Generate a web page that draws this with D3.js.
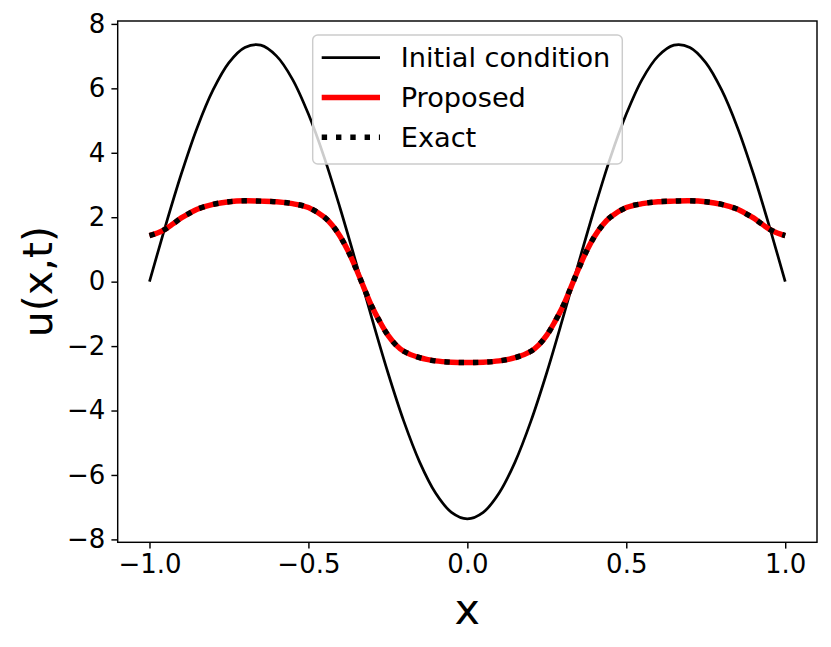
<!DOCTYPE html>
<html>
<head>
<meta charset="utf-8">
<script src="https://cdn.jsdelivr.net/npm/d3@7"></script>
<style>
  body { margin: 0; background: #fff; }
  svg { font-family: "DejaVu Sans", sans-serif; }
</style>
</head>
<body>
<svg id="chart" width="831" height="647"></svg>
<script>
// initial condition u(x,0)
var xInit = [-1.0, -0.95, -0.9, -0.85, -0.8, -0.75, -0.7, -0.65, -0.6, -0.55, -0.5, -0.45, -0.4, -0.35, -0.3, -0.25, -0.2, -0.15, -0.1, -0.05,
  0.0, 0.05, 0.1, 0.15, 0.2, 0.25, 0.3, 0.35, 0.4, 0.45, 0.5, 0.55, 0.6, 0.65, 0.7, 0.75, 0.8, 0.85, 0.9, 0.95, 1.0];
var uInit = [0.0, 1.72, 3.34, 4.78, 5.95, 6.80, 7.27, 7.34, 7.00, 6.28, 5.20, 3.85, 2.27, 0.58, -1.15, -2.82, -4.33, -5.60, -6.56, -7.16,
  -7.36, -7.16, -6.56, -5.60, -4.33, -2.82, -1.15, 0.58, 2.27, 3.85, 5.20, 6.28, 7.00, 7.34, 7.27, 6.80, 5.95, 4.78, 3.34, 1.72, 0.0];

// solution at final time
var xSol = [-1.0, -0.975, -0.95, -0.925, -0.9, -0.875, -0.85, -0.8, -0.75, -0.7, -0.65, -0.6, -0.55, -0.5, -0.45, -0.425, -0.4, -0.375, -0.35, -0.325, -0.3, -0.275, -0.25, -0.225, -0.2, -0.15, -0.1, -0.05,
  0.0, 0.05, 0.1, 0.15, 0.2, 0.225, 0.25, 0.275, 0.3, 0.325, 0.35, 0.375, 0.4, 0.425, 0.45, 0.5, 0.55, 0.6, 0.65, 0.7, 0.75, 0.8, 0.85, 0.875, 0.9, 0.925, 0.95, 0.975, 1.0];
var uProposed = [1.43, 1.51, 1.63, 1.80, 1.98, 2.12, 2.25, 2.40, 2.48, 2.51, 2.50, 2.48, 2.42, 2.30, 2.00, 1.75, 1.40, 0.95, 0.40, -0.20, -0.78, -1.25, -1.66, -1.96, -2.16, -2.36, -2.46, -2.50,
  -2.51, -2.50, -2.46, -2.36, -2.16, -1.96, -1.66, -1.25, -0.78, -0.20, 0.40, 0.95, 1.40, 1.75, 2.00, 2.30, 2.42, 2.48, 2.50, 2.51, 2.48, 2.40, 2.25, 2.12, 1.98, 1.80, 1.63, 1.51, 1.43];
var uExact = [1.43, 1.51, 1.63, 1.80, 1.98, 2.12, 2.25, 2.40, 2.48, 2.51, 2.50, 2.48, 2.42, 2.30, 2.00, 1.75, 1.40, 0.95, 0.40, -0.20, -0.78, -1.25, -1.66, -1.96, -2.16, -2.36, -2.46, -2.50,
  -2.51, -2.50, -2.46, -2.36, -2.16, -1.96, -1.66, -1.25, -0.78, -0.20, 0.40, 0.95, 1.40, 1.75, 2.00, 2.30, 2.42, 2.48, 2.50, 2.51, 2.48, 2.40, 2.25, 2.12, 1.98, 1.80, 1.63, 1.51, 1.43];

var xTicks = [-1.0, -0.5, 0.0, 0.5, 1.0];
var xTickLabels = ["\u22121.0", "\u22120.5", "0.0", "0.5", "1.0"];
var yTicks = [-8, -6, -4, -2, 0, 2, 4, 6, 8];
var yTickLabels = ["\u22128", "\u22126", "\u22124", "\u22122", "0", "2", "4", "6", "8"];
var legendLabels = ["Initial condition", "Proposed", "Exact"];

var margin = {top: 21, right: 14, bottom: 104.7, left: 117.7},
  width = 831 - margin.left - margin.right,
  height = 647 - margin.top - margin.bottom;

var svg = d3.select("#chart");
var g = svg.append("g")
  .attr("transform", "translate(" + margin.left + "," + margin.top + ")");

var x = d3.scaleLinear().domain([-1.1, 1.1]).range([0, width]);
var y = d3.scaleLinear().domain([-8.09, 8.09]).range([height, 0]);

var line = d3.line()
  .x(function(d) { return x(d[0]); })
  .y(function(d) { return y(d[1]); })
  .curve(d3.curveCatmullRom);

g.append("path")
  .datum(d3.zip(xInit, uInit))
  .attr("fill", "none")
  .attr("stroke", "#000")
  .attr("stroke-width", 2.7)
  .attr("d", line);

g.append("path")
  .datum(d3.zip(xSol, uProposed))
  .attr("fill", "none")
  .attr("stroke", "#ff0000")
  .attr("stroke-width", 5.4)
  .attr("d", line);

g.append("path")
  .datum(d3.zip(xSol, uExact))
  .attr("fill", "none")
  .attr("stroke", "#000")
  .attr("stroke-width", 5.4)
  .attr("stroke-dasharray", "5.4,8.9")
  .attr("d", line);

// axes
var xAxis = g.append("g")
  .attr("transform", "translate(0," + height + ")")
  .call(d3.axisBottom(x).tickValues(xTicks)
    .tickFormat(function(d, i) { return xTickLabels[i]; })
    .tickSize(6.3).tickPadding(6));
var yAxis = g.append("g")
  .call(d3.axisLeft(y).tickValues(yTicks)
    .tickFormat(function(d, i) { return yTickLabels[i]; })
    .tickSize(6.3).tickPadding(6));

[xAxis, yAxis].forEach(function(a) {
  a.select(".domain").remove();
  a.selectAll(".tick line").attr("stroke", "#000").attr("stroke-width", 1.44);
  a.selectAll(".tick text")
    .attr("fill", "#000")
    .style("font-family", "DejaVu Sans")
    .style("font-size", "26px");
});

// frame
g.append("rect")
  .attr("width", width)
  .attr("height", height)
  .attr("fill", "none")
  .attr("stroke", "#000")
  .attr("stroke-width", 1.44);

// axis labels
svg.append("text")
  .attr("x", margin.left + width / 2)
  .attr("y", 624)
  .attr("text-anchor", "middle")
  .style("font-size", "43px")
  .text("x");

svg.append("text")
  .attr("transform", "translate(52," + (margin.top + height / 2) + ") rotate(-90)")
  .attr("text-anchor", "middle")
  .style("font-size", "41px")
  .text("u(x,t)");

// legend
var legend = svg.append("g").attr("transform", "translate(312.7,35)");
legend.append("rect")
  .attr("width", 309.6)
  .attr("height", 129)
  .attr("rx", 5)
  .attr("fill", "#fff")
  .attr("fill-opacity", 0.8)
  .attr("stroke", "#cccccc")
  .attr("stroke-width", 1.44);

var handles = [
  {stroke: "#000", w: 2.7, dash: null},
  {stroke: "#ff0000", w: 5.4, dash: null},
  {stroke: "#000", w: 5.4, dash: "5.4,8.9"}
];
legendLabels.forEach(function(lbl, i) {
  var row = legend.append("g").attr("transform", "translate(0," + (22.7 + i * 39.8) + ")");
  row.append("line")
    .attr("x1", 9).attr("x2", 67.3)
    .attr("stroke", handles[i].stroke)
    .attr("stroke-width", handles[i].w)
    .attr("stroke-dasharray", handles[i].dash);
  row.append("text")
    .attr("x", 88)
    .attr("dy", "0.36em")
    .style("font-size", "27.2px")
    .text(lbl);
});
</script>
</body>
</html>
